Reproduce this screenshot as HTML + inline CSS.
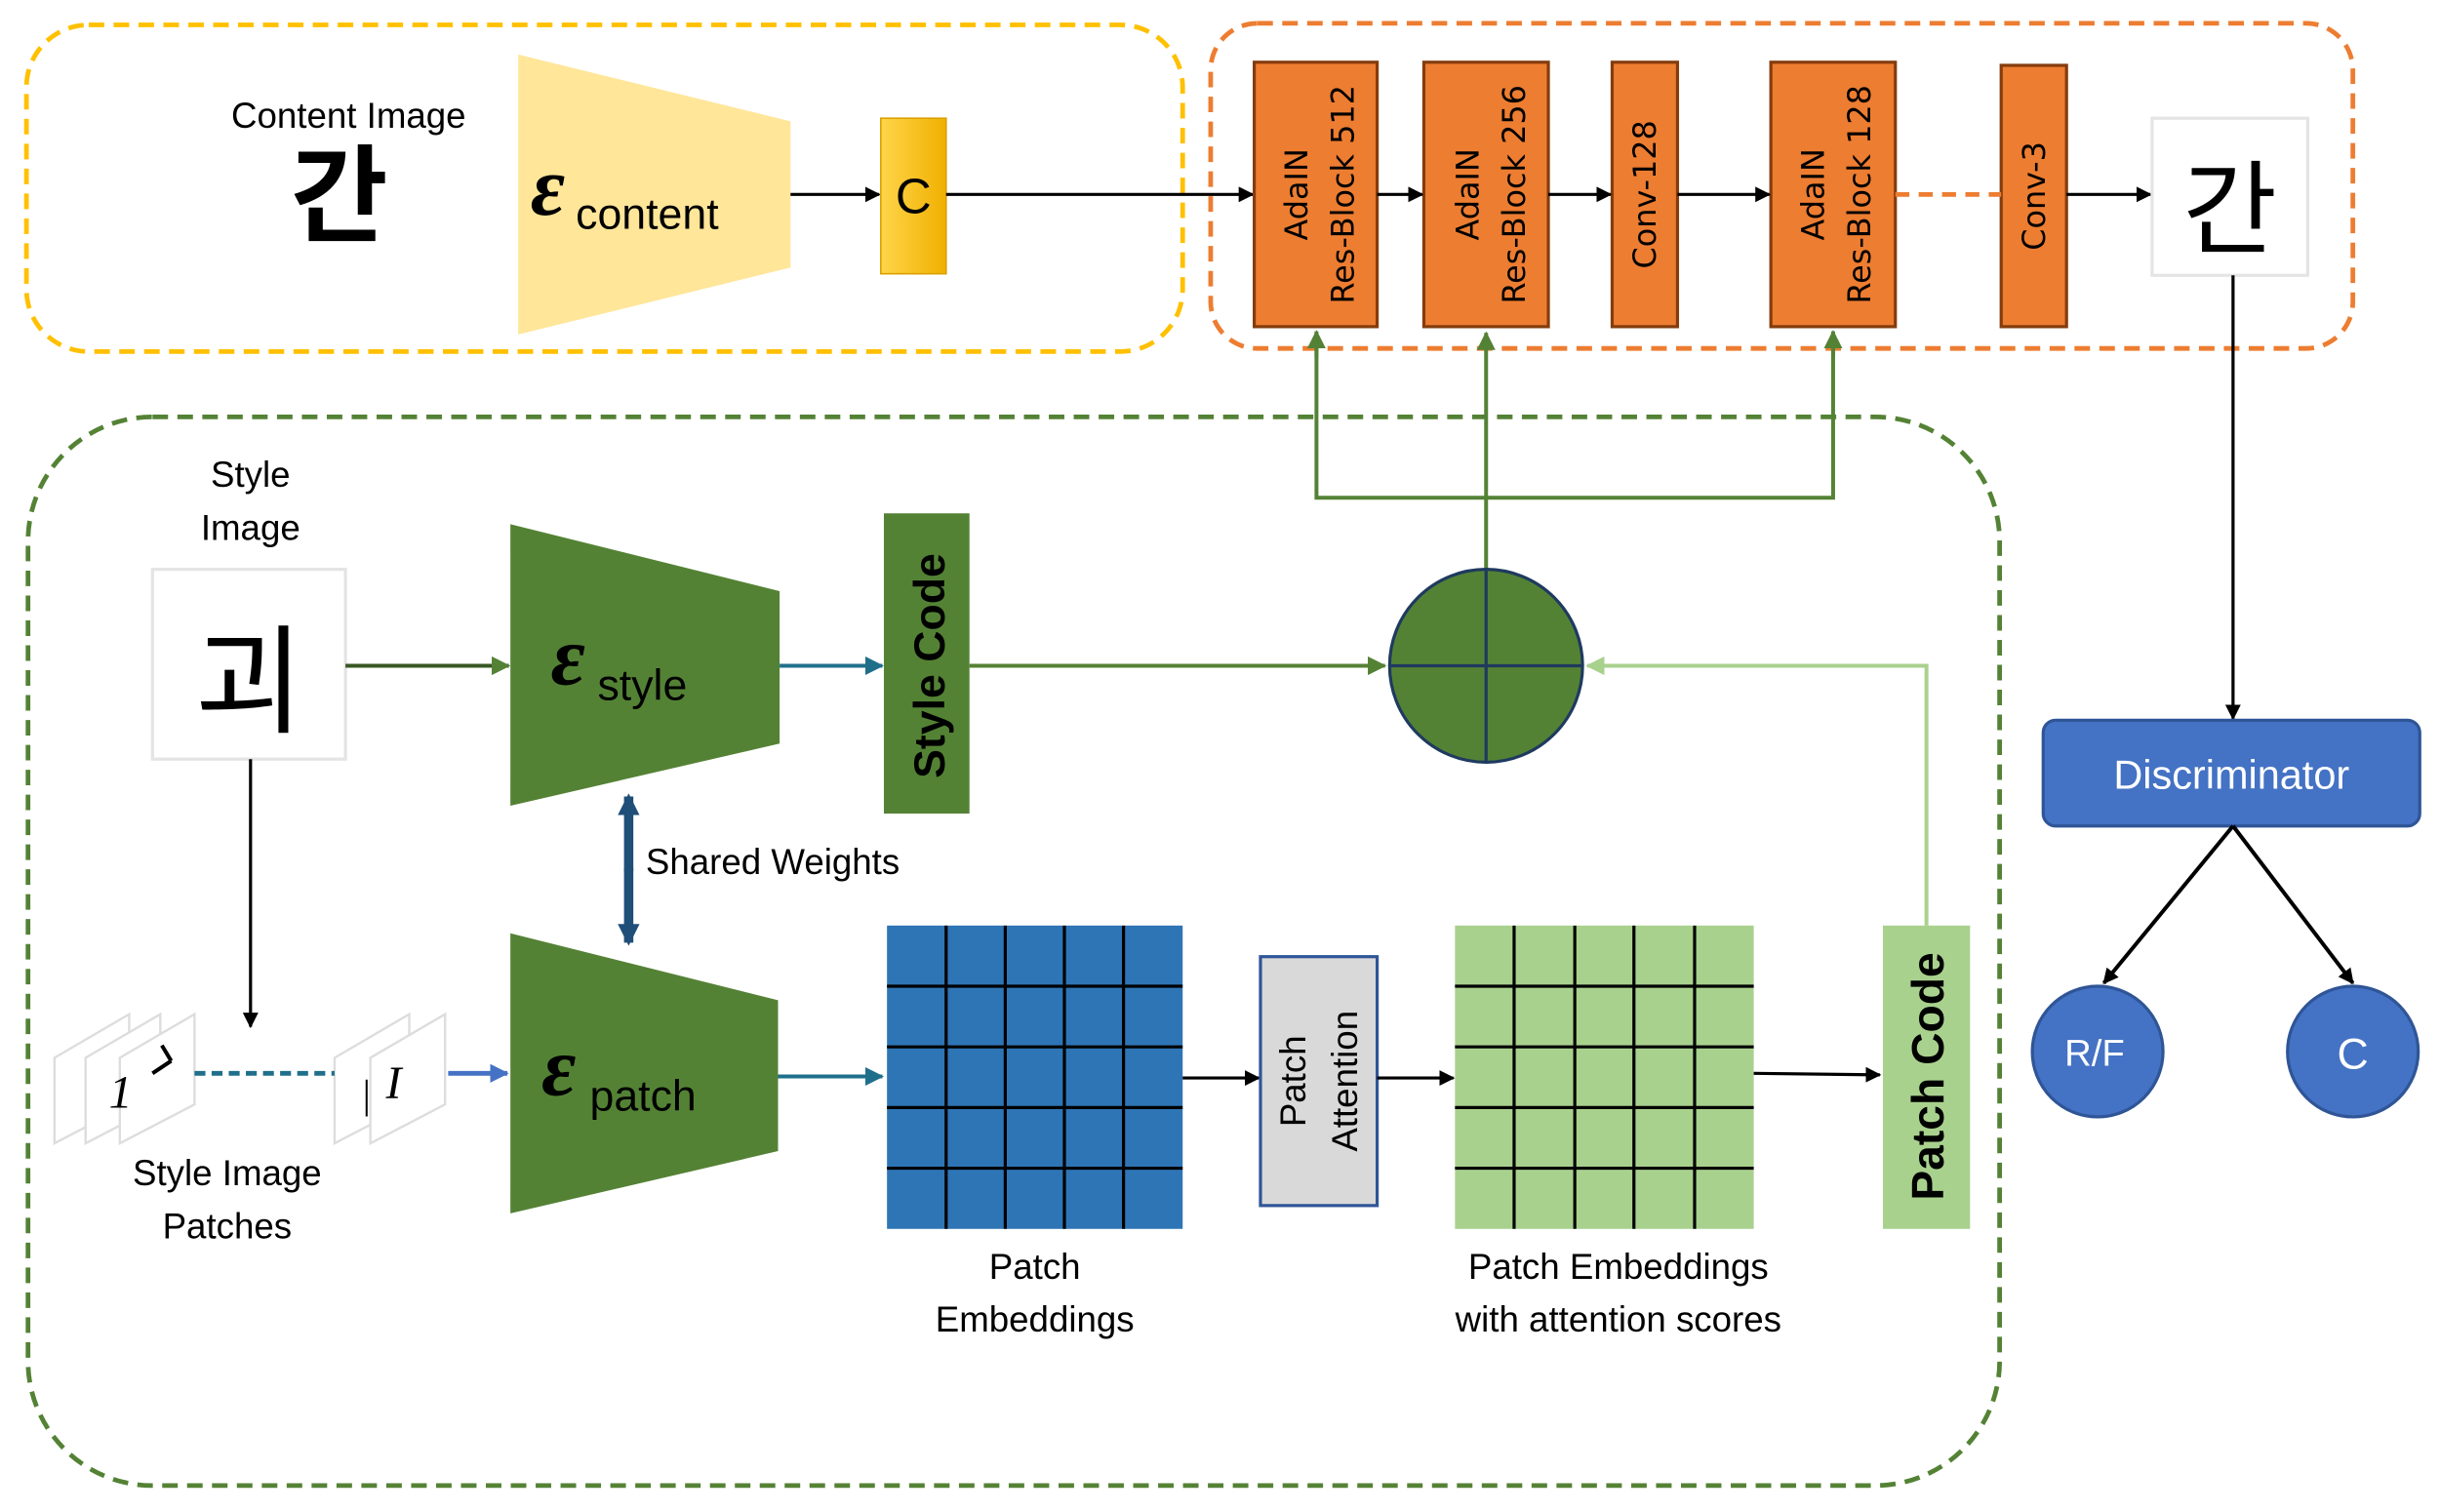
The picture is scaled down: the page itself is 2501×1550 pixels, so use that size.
<!DOCTYPE html>
<html><head><meta charset="utf-8"><style>html,body{margin:0;padding:0;background:#fff}svg{display:block}</style></head>
<body>
<svg width="2501" height="1550" viewBox="0 0 1568 972" preserveAspectRatio="none" xmlns="http://www.w3.org/2000/svg" font-family="Liberation Sans, Noto Sans CJK KR, sans-serif">
<defs>
<marker id="ak" markerWidth="10" markerHeight="10" refX="9" refY="5" orient="auto" markerUnits="userSpaceOnUse"><path d="M0,0 L10,5 L0,10 z" fill="#000"/></marker>
<marker id="ag" markerWidth="12" markerHeight="12" refX="11" refY="6" orient="auto" markerUnits="userSpaceOnUse"><path d="M0,0 L12,6 L0,12 z" fill="#548235"/></marker>
<marker id="al" markerWidth="12" markerHeight="12" refX="11" refY="6" orient="auto" markerUnits="userSpaceOnUse"><path d="M0,0 L12,6 L0,12 z" fill="#A9D18E"/></marker>
<marker id="ab" markerWidth="12" markerHeight="12" refX="11" refY="6" orient="auto" markerUnits="userSpaceOnUse"><path d="M0,0 L12,6 L0,12 z" fill="#1F6F8B"/></marker>
<marker id="ab2" markerWidth="12" markerHeight="12" refX="11" refY="6" orient="auto" markerUnits="userSpaceOnUse"><path d="M0,0 L12,6 L0,12 z" fill="#4472C4"/></marker>
<marker id="an" markerWidth="14" markerHeight="14" refX="12" refY="7" orient="auto" markerUnits="userSpaceOnUse"><path d="M0,0 L14,7 L0,14 z" fill="#1F4E79"/></marker>
<linearGradient id="gold" x1="0" x2="1"><stop offset="0" stop-color="#FFD54A"/><stop offset="1" stop-color="#F0B000"/></linearGradient>
</defs>

<rect x="17" y="16" width="743" height="210" rx="40" fill="none" stroke="#FFC000" stroke-width="3" stroke-dasharray="10,6"/>
<text x="224" y="82" font-size="23" text-anchor="middle">Content Image</text>
<text x="218" y="150" font-size="68" text-anchor="middle" font-weight="bold">간</text>
<polygon points="333,35 508,78 508,172 333,215" fill="#FFE699"/>
<text x="341" y="138" font-size="54" font-weight="bold" font-style="italic" font-family="Liberation Serif, serif">ε</text>
<text x="370" y="147" font-size="28">content</text>
<line x1="508" y1="125" x2="565" y2="125" stroke="#000" stroke-width="2" marker-end="url(#ak)"/>
<rect x="566" y="76" width="42" height="100" fill="url(#gold)" stroke="#D9A000"/>
<text x="587" y="137" font-size="32" text-anchor="middle">C</text>
<line x1="608" y1="125" x2="805" y2="125" stroke="#000" stroke-width="2" marker-end="url(#ak)"/>

<rect x="778" y="15" width="734" height="209" rx="30" fill="none" stroke="#ED7D31" stroke-width="3" stroke-dasharray="10,6"/>
<g fill="#ED7D31" stroke="#843C0C" stroke-width="2">
<rect x="806" y="40" width="79" height="170"/>
<rect x="915" y="40" width="80" height="170"/>
<rect x="1036" y="40" width="42" height="170"/>
<rect x="1138" y="40" width="80" height="170"/>
<rect x="1286" y="42" width="42" height="168"/>
</g>
<g font-family="DejaVu Sans, sans-serif" font-size="20" fill="#000" text-anchor="middle">
<text transform="translate(840,125) rotate(-90)">AdaIN</text>
<text transform="translate(870,125) rotate(-90)">Res-Block 512</text>
<text transform="translate(950,125) rotate(-90)">AdaIN</text>
<text transform="translate(980,125) rotate(-90)">Res-Block 256</text>
<text transform="translate(1064,125) rotate(-90)">Conv-128</text>
<text transform="translate(1172,125) rotate(-90)">AdaIN</text>
<text transform="translate(1202,125) rotate(-90)">Res-Block 128</text>
<text transform="translate(1314,126) rotate(-90)">Conv-3</text>
</g>
<line x1="885" y1="125" x2="914" y2="125" stroke="#000" stroke-width="2" marker-end="url(#ak)"/>
<line x1="995" y1="125" x2="1035" y2="125" stroke="#000" stroke-width="2" marker-end="url(#ak)"/>
<line x1="1078" y1="125" x2="1137" y2="125" stroke="#000" stroke-width="2" marker-end="url(#ak)"/>
<line x1="1218" y1="125" x2="1286" y2="125" stroke="#ED7D31" stroke-width="3" stroke-dasharray="9,6"/>
<line x1="1328" y1="125" x2="1382" y2="125" stroke="#000" stroke-width="2" marker-end="url(#ak)"/>
<rect x="1383" y="76" width="100" height="101" fill="#fff" stroke="#e4e4e4" stroke-width="2"/>
<text x="1433" y="158" font-size="66" text-anchor="middle">간</text>

<line x1="1435" y1="177" x2="1435" y2="462" stroke="#000" stroke-width="2" marker-end="url(#ak)"/>
<rect x="1313" y="463" width="242" height="68" rx="8" fill="#4472C4" stroke="#2F5597" stroke-width="2"/>
<text x="1434" y="507" font-size="26" fill="#fff" text-anchor="middle">Discriminator</text>
<line x1="1435" y1="531" x2="1352" y2="632" stroke="#000" stroke-width="2.5" marker-end="url(#ak)"/>
<line x1="1435" y1="531" x2="1512" y2="632" stroke="#000" stroke-width="2.5" marker-end="url(#ak)"/>
<circle cx="1348" cy="676" r="42" fill="#4472C4" stroke="#2F5597" stroke-width="2"/>
<circle cx="1512" cy="676" r="42" fill="#4472C4" stroke="#2F5597" stroke-width="2"/>
<text x="1346" y="685" font-size="24" fill="#fff" text-anchor="middle">R/F</text>
<text x="1512" y="687" font-size="28" fill="#fff" text-anchor="middle">C</text>

<rect x="18" y="268" width="1267" height="687" rx="80" fill="none" stroke="#548235" stroke-width="3" stroke-dasharray="10,6"/>

<g stroke="#548235" stroke-width="2.5" fill="none">
<line x1="955" y1="366" x2="955" y2="214" marker-end="url(#ag)"/>
<polyline points="846,214 846,320 1178,320 1178,214" />
</g>
<line x1="846" y1="230" x2="846" y2="213" stroke="#548235" stroke-width="2.5" marker-end="url(#ag)"/>
<line x1="1178" y1="230" x2="1178" y2="213" stroke="#548235" stroke-width="2.5" marker-end="url(#ag)"/>

<text x="161" y="313" font-size="23" text-anchor="middle">Style</text>
<text x="161" y="347" font-size="23" text-anchor="middle">Image</text>
<rect x="98" y="366" width="124" height="122" fill="#fff" stroke="#e4e4e4" stroke-width="2"/>
<text x="160" y="465" font-size="76" text-anchor="middle">괴</text>
<line x1="222" y1="428" x2="327" y2="428" stroke="#385723" stroke-width="2.5" marker-end="url(#ag)"/>
<polygon points="328,337 501,380 501,478 328,518" fill="#548235"/>
<text x="354" y="440" font-size="54" font-weight="bold" font-style="italic" font-family="Liberation Serif, serif">ε</text>
<text x="384" y="450" font-size="28">style</text>
<line x1="501" y1="428" x2="567" y2="428" stroke="#1F6F8B" stroke-width="2.5" marker-end="url(#ab)"/>
<rect x="568" y="330" width="55" height="193" fill="#548235"/>
<text transform="translate(607,428) rotate(-90)" font-size="28" font-weight="bold" text-anchor="middle">Style Code</text>
<line x1="623" y1="428" x2="890" y2="428" stroke="#548235" stroke-width="2.5" marker-end="url(#ag)"/>
<circle cx="955" cy="428" r="62" fill="#548235" stroke="#1F3A5F" stroke-width="2"/>
<line x1="893" y1="428" x2="1017" y2="428" stroke="#1F3A5F" stroke-width="2"/>
<line x1="955" y1="366" x2="955" y2="490" stroke="#1F3A5F" stroke-width="2"/>
<polyline points="1238,595 1238,428 1020,428" fill="none" stroke="#A9D18E" stroke-width="2.5" marker-end="url(#al)"/>

<line x1="404" y1="560" x2="404" y2="512" stroke="#1F4E79" stroke-width="6" marker-end="url(#an)"/>
<line x1="404" y1="558" x2="404" y2="606" stroke="#1F4E79" stroke-width="6" marker-end="url(#an)"/>
<text x="415" y="562" font-size="23">Shared Weights</text>

<line x1="161" y1="488" x2="161" y2="660" stroke="#000" stroke-width="2" marker-end="url(#ak)"/>

<g fill="#fff" stroke="#ddd" stroke-width="1.5">
<polygon points="35,680 83,652 83,710 35,735"/>
<polygon points="55,680 103,652 103,710 55,735"/>
<polygon points="77,680 125,652 125,710 77,735"/>
<polygon points="215,680 263,652 263,710 215,735"/>
<polygon points="238,680 286,652 286,710 238,735"/>
</g>
<text x="70" y="712" font-size="30" font-style="italic" font-family="Liberation Serif, serif">1</text>
<path d="M98,690 L110,682 M104,672 L110,682" stroke="#000" stroke-width="2.5" fill="none"/>
<text x="233" y="712" font-size="26" font-family="Liberation Serif, serif">|</text>
<text x="248" y="706" font-size="30" font-style="italic" font-family="Liberation Serif, serif">I</text>
<line x1="125" y1="690" x2="215" y2="690" stroke="#1F6F8B" stroke-width="3" stroke-dasharray="7,4"/>
<line x1="288" y1="690" x2="326" y2="690" stroke="#4472C4" stroke-width="3" marker-end="url(#ab2)"/>
<text x="146" y="762" font-size="23" text-anchor="middle">Style Image</text>
<text x="146" y="796" font-size="23" text-anchor="middle">Patches</text>

<polygon points="328,600 500,643 500,740 328,780" fill="#548235"/>
<text x="348" y="704" font-size="54" font-weight="bold" font-style="italic" font-family="Liberation Serif, serif">ε</text>
<text x="379" y="714" font-size="28">patch</text>
<line x1="500" y1="692" x2="567" y2="692" stroke="#1F6F8B" stroke-width="2.5" marker-end="url(#ab)"/>

<rect x="570" y="595" width="190" height="195" fill="#2E75B6"/>
<g stroke="#000" stroke-width="2">
<line x1="608" y1="595" x2="608" y2="790"/><line x1="646" y1="595" x2="646" y2="790"/><line x1="684" y1="595" x2="684" y2="790"/><line x1="722" y1="595" x2="722" y2="790"/>
<line x1="570" y1="634" x2="760" y2="634"/><line x1="570" y1="673" x2="760" y2="673"/><line x1="570" y1="712" x2="760" y2="712"/><line x1="570" y1="751" x2="760" y2="751"/>
</g>
<text x="665" y="822" font-size="23" text-anchor="middle">Patch</text>
<text x="665" y="856" font-size="23" text-anchor="middle">Embeddings</text>
<line x1="760" y1="693" x2="809" y2="693" stroke="#000" stroke-width="2" marker-end="url(#ak)"/>
<rect x="810" y="615" width="75" height="160" fill="#D9D9D9" stroke="#2F5597" stroke-width="2"/>
<text transform="translate(839,695) rotate(-90)" font-size="23" text-anchor="middle">Patch</text>
<text transform="translate(872,695) rotate(-90)" font-size="23" text-anchor="middle">Attention</text>
<line x1="885" y1="693" x2="934" y2="693" stroke="#000" stroke-width="2" marker-end="url(#ak)"/>

<rect x="935" y="595" width="192" height="195" fill="#A9D18E"/>
<g stroke="#000" stroke-width="2">
<line x1="973" y1="595" x2="973" y2="790"/><line x1="1012" y1="595" x2="1012" y2="790"/><line x1="1050" y1="595" x2="1050" y2="790"/><line x1="1089" y1="595" x2="1089" y2="790"/>
<line x1="935" y1="634" x2="1127" y2="634"/><line x1="935" y1="673" x2="1127" y2="673"/><line x1="935" y1="712" x2="1127" y2="712"/><line x1="935" y1="751" x2="1127" y2="751"/>
</g>
<text x="1040" y="822" font-size="23" text-anchor="middle">Patch Embeddings</text>
<text x="1040" y="856" font-size="23" text-anchor="middle">with attention scores</text>
<line x1="1127" y1="690" x2="1208" y2="691" stroke="#000" stroke-width="2" marker-end="url(#ak)"/>
<rect x="1210" y="595" width="56" height="195" fill="#A9D18E"/>
<text transform="translate(1249,692) rotate(-90)" font-size="29" font-weight="bold" text-anchor="middle">Patch Code</text>
</svg>
</body></html>
